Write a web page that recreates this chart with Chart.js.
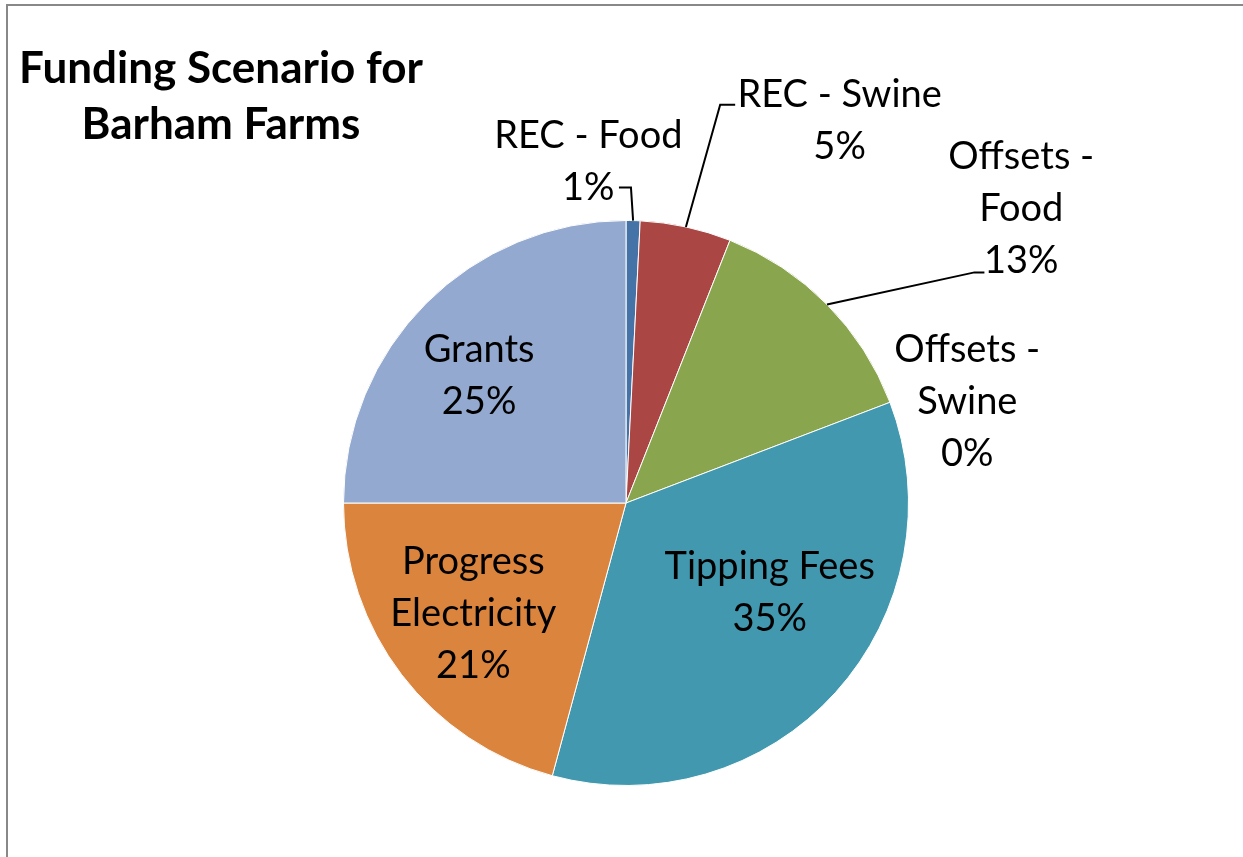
<!DOCTYPE html>
<html>
<head>
<meta charset="utf-8">
<script src="https://cdn.jsdelivr.net/npm/chart.js@4/dist/chart.umd.min.js"></script>
<style>
  html, body { margin: 0; padding: 0; background: #fff; }
  #wrap { width: 1243px; height: 857px; position: relative; }
</style>
</head>
<body>
<div id="wrap"><canvas id="pieChart"></canvas></div>
<script>
// data (percent of funding)
const categories = ['REC - Food', 'REC - Swine', 'Offsets - Food', 'Offsets - Swine', 'Tipping Fees', 'Progress Electricity', 'Grants'];
const shares = [0.8, 5.2, 13.2, 0, 35, 20.8, 25];
const labelLines = [['REC - Food'], ['REC - Swine'], ['Offsets -', 'Food'], ['Offsets -', 'Swine'], ['Tipping Fees'], ['Progress', 'Electricity'], ['Grants']];
const titleLines = ['Funding Scenario for', 'Barham Farms'];

const sliceColors = ['#4572A7', '#AA4643', '#89A54E', '#71588F', '#4198AF', '#DB843D', '#93A9CF'];

// where each label sits: angle (deg from top, clockwise) and distance as a share of the radius
const labelPlace = [
    { ang: 353.7, rf: 1.216, elbow: { ang: 0.9, rf: 1.117, tail: -12 } },
    { ang: 29.2, rf: 1.55, elbow: { ang: 13.3, rf: 1.449, tail: 15 } },
    { ang: 53.3, rf: 1.745, elbow: { ang: 56.5, rf: 1.479, tail: 10 } },
    { ang: 73.5, rf: 1.26 },
    { ang: 122.0, rf: 0.6 },
    { ang: 234.0, rf: 0.668 },
    { ang: 311.0, rf: 0.689 }
];

const labelFont = '38px Lato';
const lineGap = 52;

function polar(cx, cy, deg, dist) {
    const a = (deg - 90) * Math.PI / 180;
    return { x: cx + Math.cos(a) * dist, y: cy + Math.sin(a) * dist };
}

// frame + title
const framePlugin = {
    id: 'frame',
    beforeDraw(chart) {
        const c = chart.ctx;
        c.save();
        c.fillStyle = '#fff';
        c.fillRect(0, 0, chart.width, chart.height);
        c.strokeStyle = '#888';
        c.lineWidth = 2;
        c.beginPath();
        c.moveTo(7, chart.height + 5);
        c.lineTo(7, 5);
        c.lineTo(chart.width + 5, 5);
        c.stroke();
        c.fillStyle = '#000';
        c.font = 'bold 44px Lato';
        c.textAlign = 'center';
        c.textBaseline = 'middle';
        titleLines.forEach((t, i) => c.fillText(t, 221, 69 + i * 56));
        c.restore();
    }
};

// data labels with leader lines
const labelPlugin = {
    id: 'sliceLabels',
    afterDatasetsDraw(chart) {
        const c = chart.ctx;
        const meta = chart.getDatasetMeta(0);
        const total = shares.reduce((s, v) => s + v, 0);
        c.save();
        meta.data.forEach((arc, i) => {
            const p = arc.getProps(['x', 'y', 'startAngle', 'endAngle', 'outerRadius'], true);
            const r = p.outerRadius;
            const place = labelPlace[i];
            const pos = polar(p.x, p.y, place.ang, r * place.rf);
            const pct = Math.round(shares[i] / total * 100) + '%';
            const lines = labelLines[i].concat([pct]);

            if (place.elbow) {
                const midDeg = ((p.startAngle + p.endAngle) / 2) * 180 / Math.PI + 90;
                const s = polar(p.x, p.y, midDeg, r);
                const e = polar(p.x, p.y, place.elbow.ang, r * place.elbow.rf);
                c.strokeStyle = '#000';
                c.lineWidth = 2;
                c.beginPath();
                c.moveTo(s.x, s.y);
                c.lineTo(e.x, e.y);
                c.lineTo(e.x + place.elbow.tail, e.y);
                c.stroke();
            }

            c.fillStyle = '#000';
            c.font = labelFont;
            c.textAlign = 'center';
            c.textBaseline = 'middle';
            const top = pos.y - (lines.length - 1) * lineGap / 2;
            lines.forEach((t, k) => c.fillText(t, pos.x, top + k * lineGap));
        });
        c.restore();
    }
};

const ctx = document.getElementById('pieChart').getContext('2d');
new Chart(ctx, {
    type: 'pie',
    data: {
        labels: categories,
        datasets: [{
            data: shares,
            backgroundColor: sliceColors,
            borderColor: '#ffffff',
            borderWidth: 1
        }]
    },
    options: {
        responsive: true,
        maintainAspectRatio: false,
        animation: false,
        layout: {
            padding: { top: 220, bottom: 71, left: 343, right: 334 }
        },
        plugins: {
            legend: { display: false },
            title: { display: false },
            tooltip: { enabled: false }
        }
    },
    plugins: [framePlugin, labelPlugin]
});
</script>
</body>
</html>
